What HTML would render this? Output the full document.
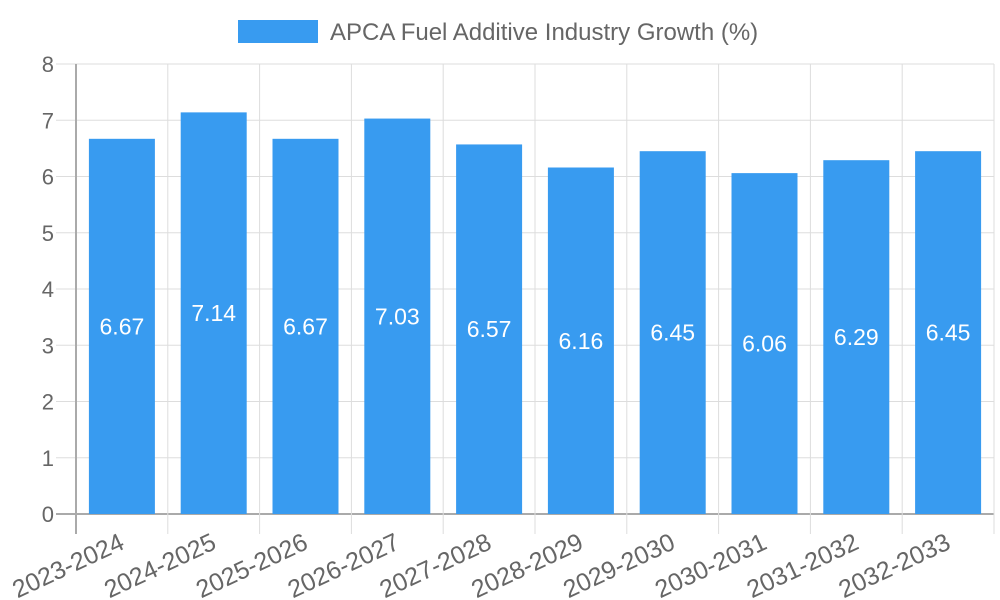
<!DOCTYPE html>
<html><head><meta charset="utf-8"><style>
body{margin:0;background:#fff}
svg{display:block;font-family:"Liberation Sans",sans-serif}
</style></head><body>
<svg id="c" width="1000" height="600"></svg>
<script>
const categories=["2023-2024","2024-2025","2025-2026","2026-2027","2027-2028","2028-2029","2029-2030","2030-2031","2031-2032","2032-2033"];
const values=[6.67,7.14,6.67,7.03,6.57,6.16,6.45,6.06,6.29,6.45];
const yTicks=[0,1,2,3,4,5,6,7,8];
const seriesName="APCA Fuel Additive Industry Growth (%)";
const NS="http://www.w3.org/2000/svg";
const svg=document.getElementById('c');
const L=76,R=994,T=64,B=514,yMax=8;
const bw=(R-L)/categories.length;
const y=v=>B-(v/yMax)*(B-T);
const xc=i=>L+bw*(i+0.5);
function mk(t,a,p){const e=document.createElementNS(NS,t);for(const k in a)e.setAttribute(k,a[k]);(p||svg).appendChild(e);return e;}
const grid=mk('g',{});


yTicks.forEach(t=>{
  mk('line',{x1:56,x2:R,y1:y(t),y2:y(t),stroke:t===0?'#aaa':'#ddd','stroke-width':t===0?2:1},grid);
  const tx=mk('text',{x:54,y:y(t)+8,'text-anchor':'end','font-size':22,fill:'#666'});
  tx.textContent=t;
  
  
});
for(let i=0;i<=categories.length;i++){
  const x=L+bw*i;
  mk('line',{x1:x,x2:x,y1:T,y2:534,stroke:i===0?'#aaa':'#ddd','stroke-width':i===0?2:1},grid);
}
categories.forEach((c,i)=>{
  const v=values[i],w=66;
  const r=mk('rect',{x:xc(i)-w/2,y:y(v),width:w,height:B-y(v),fill:'#389bf0'});
  
  
  const vl=mk('text',{x:xc(i),y:(y(v)+B)/2+8,'text-anchor':'middle','font-size':23,fill:'#fff'});
  vl.textContent=v.toFixed(2);
  
  
  const ax=xc(i)+4, ay=548;
  const cl=mk('text',{x:ax,y:ay,'text-anchor':'end','font-size':25,fill:'#666',transform:`rotate(-25 ${ax} ${ay})`});
  cl.textContent=c;
  
  
});
const lg=mk('g',{});


mk('rect',{x:238,y:20,width:80,height:23,fill:'#389bf0'},lg);
const lt=mk('text',{x:330,y:40,'font-size':24,fill:'#666'},lg);
lt.textContent=seriesName;
</script>
</body></html>
